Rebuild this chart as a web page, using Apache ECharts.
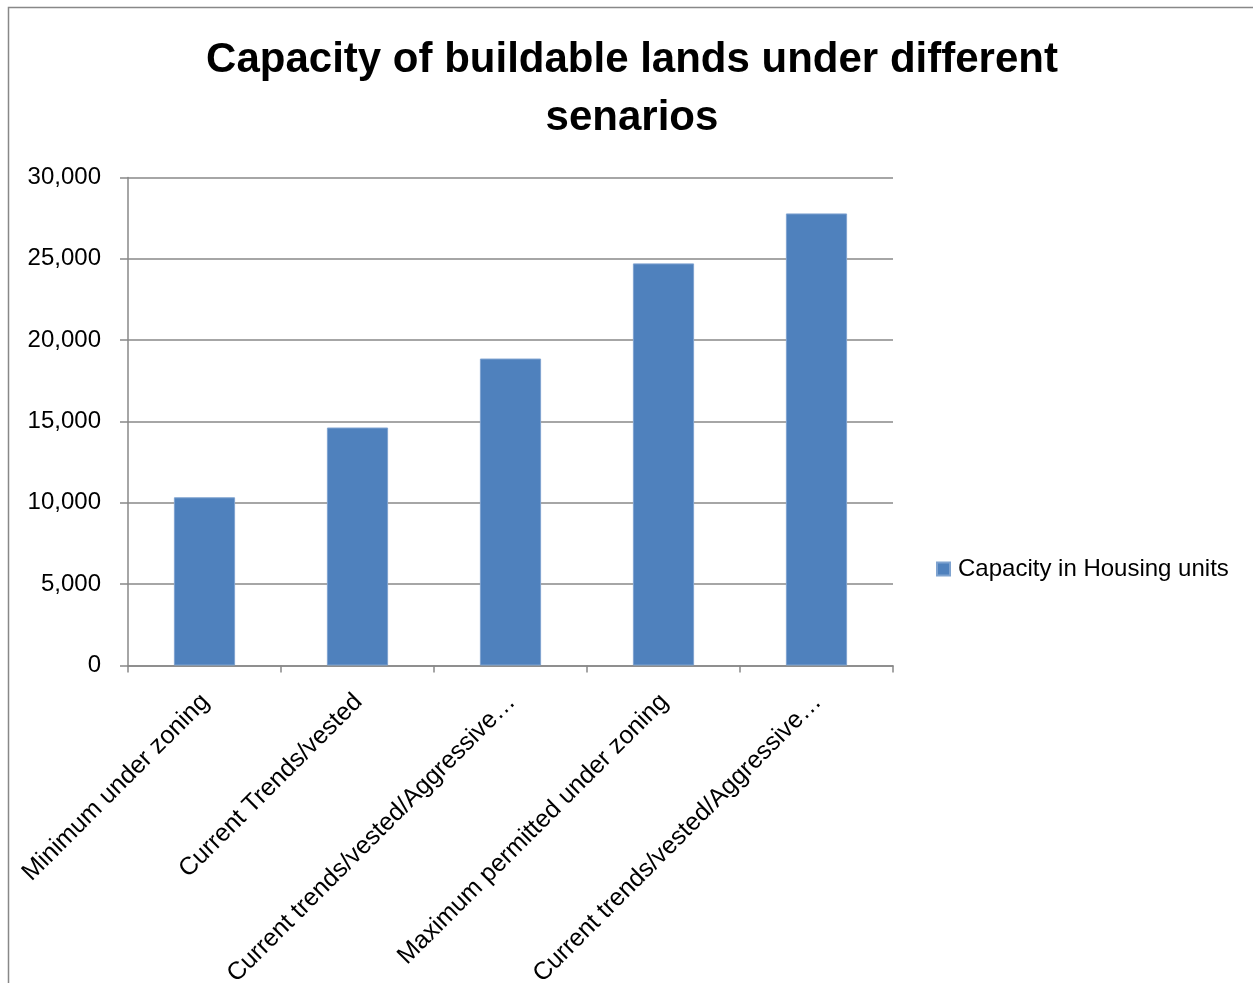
<!DOCTYPE html>
<html>
<head>
<meta charset="utf-8">
<script src="https://cdn.jsdelivr.net/npm/echarts@6/dist/echarts.min.js"></script>
<style>html,body{margin:0;padding:0;background:#fff}#c{width:1253px;height:983px}</style>
</head>
<body>
<div id="c"></div>
<script>
const titleText = 'Capacity of buildable lands under different\nsenarios';
const categories = [
  'Minimum under zoning',
  'Current Trends/vested',
  'Current trends/vested/Aggressive…',
  'Maximum permitted under zoning',
  'Current trends/vested/Aggressive…'
];
const seriesName = 'Capacity in Housing units';
const capacityValues = [10340, 14630, 18870, 24720, 27790];
const yTicks = [0, 5000, 10000, 15000, 20000, 25000, 30000];

const FONT = 'Liberation Sans';
const chart = echarts.init(document.getElementById('c'), null, {renderer: 'canvas'});
chart.setOption({
  backgroundColor: '#fff',
  animation: false,
  legend: {
    data: [seriesName],
    left: 931,
    top: 552,
    icon: 'rect',
    itemWidth: 13,
    itemHeight: 13,
    textStyle: {fontFamily: FONT, fontSize: 24, color: '#000', padding: [0, 0, 0, 3]}
  },
  graphic: [{
    type: 'rect',
    shape: {x: 8.5, y: 7.5, width: 1300, height: 1100},
    style: {fill: 'none', stroke: '#888', lineWidth: 1.5},
    silent: true
  }, {
    type: 'text',
    x: 632,
    y: 31,
    silent: true,
    style: {
      text: titleText,
      align: 'center',
      verticalAlign: 'top',
      fontFamily: FONT, fontSize: 42, fontWeight: 'bold', fill: '#000', lineHeight: 58
    }
  }],
  grid: {left: 128, right: 360, top: 177.5, bottom: 317.5, containLabel: false, outerBoundsMode: 'none'},
  xAxis: {
    type: 'category',
    data: categories,
    axisLine: {show: true, lineStyle: {color: '#888', width: 1.5}},
    axisTick: {show: true, alignWithLabel: false, length: 7, lineStyle: {color: '#888', width: 1.5}},
    axisLabel: {
      interval: 0, rotate: 45, margin: 16, hideOverlap: false,
      align: 'right', verticalAlign: 'top', padding: [0, 11, 0, 0],
      fontFamily: FONT, fontSize: 25, color: '#000'
    },
    splitLine: {show: false}
  },
  yAxis: {
    type: 'value',
    min: yTicks[0],
    max: yTicks[yTicks.length - 1],
    interval: yTicks[1] - yTicks[0],
    axisLine: {show: true, lineStyle: {color: '#888', width: 1.5}},
    axisTick: {show: true, length: 8, lineStyle: {color: '#888', width: 1.5}},
    axisLabel: {
      margin: 27, fontFamily: FONT, fontSize: 24, color: '#000',
      formatter: v => v.toLocaleString('en-US')
    },
    splitLine: {show: true, lineStyle: {color: '#888', width: 1.5}}
  },
  series: [{
    name: seriesName,
    type: 'bar',
    data: capacityValues,
    barWidth: '40%',
    itemStyle: {color: '#4F81BD', borderColor: '#7FA3D0', borderWidth: 1}
  }]
});
</script>
</body>
</html>
